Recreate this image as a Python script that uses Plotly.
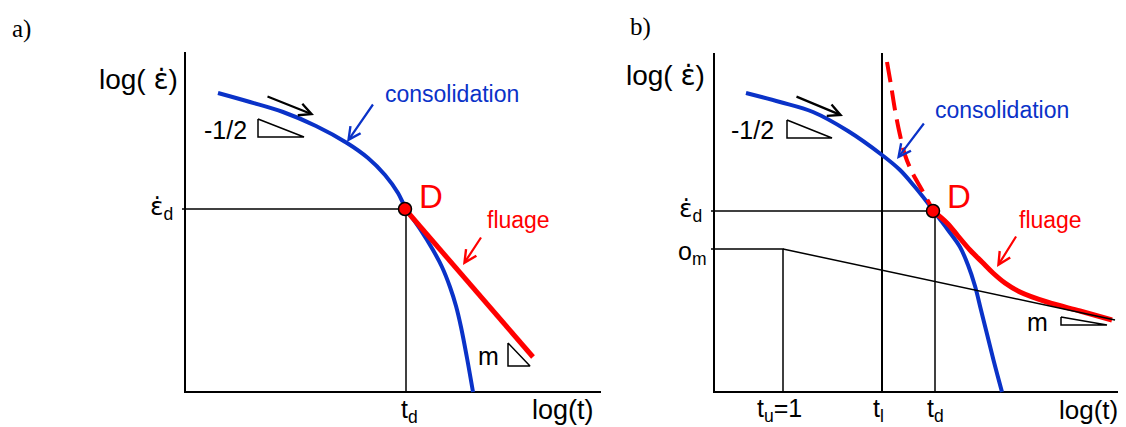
import plotly.graph_objects as go

# ---------------- data (pixel frame of the reference) ----------------
# Panel a
a_axis_x = [185, 185, 601]
a_axis_y = [52, 392, 392]
a_ed_x = [182, 405]
a_ed_y = [209, 209]
a_td_x = [406, 406]
a_td_y = [209, 392]
a_consol_x = [218, 250, 283, 316, 347, 368, 385, 398, 405, 411, 420, 433, 442, 450, 456, 461, 467, 473]
a_consol_y = [93, 102, 112, 126, 143, 158, 175, 193, 207, 216, 229, 250, 267, 287, 306, 327, 358, 392]
a_fluage_x = [405, 533]
a_fluage_y = [209, 357]
a_D = (405, 209)
a_tri_half_x = [258, 258, 304, 258]
a_tri_half_y = [119, 137, 137, 119]
a_tri_m_x = [508, 508, 530, 508]
a_tri_m_y = [343, 366, 366, 343]

# Panel b
b_axis_x = [714, 714, 1126]
b_axis_y = [53, 392, 392]
b_ed_x = [711, 933]
b_ed_y = [211, 211]
b_td_x = [935, 935]
b_td_y = [211, 392]
b_tl_x = [882, 882]
b_tl_y = [53, 392]
b_om_x = [711, 783, 783]
b_om_y = [249, 249, 392]
b_slope_x = [783, 1115]
b_slope_y = [249, 320]
b_consol_x = [746, 780, 813, 848, 882, 900, 915, 927, 933, 939, 948, 960, 968, 975, 981, 987, 994, 1002]
b_consol_y = [93, 102, 112, 131, 155, 170, 187, 202, 210, 218, 230, 247, 265, 286, 310, 334, 362, 392]
b_fluage_x = [933, 947, 958, 970, 982, 993, 1005, 1020, 1047, 1080, 1112]
b_fluage_y = [211, 223, 236, 250, 262, 273, 283, 292, 302, 311, 320]
b_dash_x = [887, 891, 895, 900, 905, 912, 922, 933]
b_dash_y = [62, 85, 110, 135, 155, 172, 190, 210]
b_D = (933, 211)
b_tri_half_x = [787, 787, 832, 787]
b_tri_half_y = [120, 138, 138, 120]
b_tri_m_x = [1061, 1061, 1107, 1061]
b_tri_m_y = [317, 325, 325, 317]

# arrows: (tail_x, tail_y, tip_x, tip_y, colour)
BLUE = "#0a32c8"
arrows = [
    (266, 96, 314, 115, "black"),
    (374, 103, 347, 142, BLUE),
    (482, 236, 463, 265, "red"),
    (795, 96, 843, 116, "black"),
    (925, 122, 897, 159, BLUE),
    (1017, 235, 997, 267, "red"),
]

# epsilon with a dot above, set in a font that places combining marks
EPS = '<span style="font-family:DejaVu Sans">ε̇</span>'

# text labels: (text, x, y, size, colour, family)
SANS = "Liberation Sans, Arial, sans-serif"
SERIF = "Liberation Serif, Times New Roman, serif"
labels = [
    ("a)", 21, 29, 25, "black", SERIF),
    ("b)", 640, 27, 25, "black", SERIF),
    ("log( " + EPS + ")", 138, 79, 28, "black", SANS),
    ("log( " + EPS + ")", 665, 75, 28, "black", SANS),
    (EPS + "<sub>d</sub>", 161, 208, 25, "black", SANS),
    (EPS + "<sub>d</sub>", 690, 210, 25, "black", SANS),
    ("o<sub>m</sub>", 692, 253, 25, "black", SANS),
    ("t<sub>d</sub>", 409, 411, 25, "black", SANS),
    ("log(t)", 563, 410, 27, "black", SANS),
    ("t<sub>u</sub>=1", 779, 410, 25, "black", SANS),
    ("t<sub>l</sub>", 878, 410, 25, "black", SANS),
    ("t<sub>d</sub>", 935, 410, 25, "black", SANS),
    ("log(t)", 1088, 410, 26, "black", SANS),
    ("consolidation", 452, 94, 23, BLUE, SANS),
    ("consolidation", 1002, 110, 23, BLUE, SANS),
    ("-1/2", 225, 130, 25, "black", SANS),
    ("-1/2", 752, 130, 25, "black", SANS),
    ("D", 431, 196, 33, "red", SANS),
    ("D", 959, 196, 33, "red", SANS),
    ("fluage", 518, 220, 23, "red", SANS),
    ("fluage", 1050, 220, 23, "red", SANS),
    ("m", 488, 356, 25, "black", SANS),
    ("m", 1037, 322, 25, "black", SANS),
]

# The page body has an 8px margin; shift the axis frame so data units equal page pixels.
PAGE_W, PAGE_H, OFF = 1126, 427, 8

fig = go.Figure()


def line(x, y, color="black", width=1.6, dash=None, shape="linear"):
    fig.add_trace(go.Scatter(x=x, y=y, mode="lines", hoverinfo="skip",
                             line=dict(color=color, width=width, dash=dash, shape=shape,
                                       smoothing=1.0 if shape == "spline" else None)))


# panel a
line(a_axis_x, a_axis_y, width=2)
line(a_ed_x, a_ed_y, width=1.5)
line(a_td_x, a_td_y, width=1.5)
line(a_tri_half_x, a_tri_half_y, width=1.5)
line(a_tri_m_x, a_tri_m_y, width=1.5)
line(a_consol_x, a_consol_y, color=BLUE, width=4, shape="spline")
line(a_fluage_x, a_fluage_y, color="red", width=5)

# panel b
line(b_axis_x, b_axis_y, width=2)
line(b_ed_x, b_ed_y, width=1.5)
line(b_td_x, b_td_y, width=1.5)
line(b_tl_x, b_tl_y, width=2)
line(b_om_x, b_om_y, width=1.5)
line(b_tri_half_x, b_tri_half_y, width=1.5)
line(b_tri_m_x, b_tri_m_y, width=1.5)
line(b_consol_x, b_consol_y, color=BLUE, width=4, shape="spline")
line(b_fluage_x, b_fluage_y, color="red", width=5, shape="spline")
line(b_slope_x, b_slope_y, width=1.5)
line(b_dash_x, b_dash_y, color="red", width=4, dash="20px,9px", shape="spline")

# D points
fig.add_trace(go.Scatter(x=[a_D[0], b_D[0]], y=[a_D[1], b_D[1]], mode="markers", hoverinfo="skip",
                         marker=dict(size=13, color="red", line=dict(color="black", width=1.5))))

annotations = []
for tx, ty, hx, hy, col in arrows:
    annotations.append(dict(x=hx, y=hy, ax=tx, ay=ty, xref="x", yref="y", axref="x", ayref="y",
                            text="", showarrow=True, arrowhead=5, arrowsize=1.1,
                            arrowwidth=2.2, arrowcolor=col))
for txt, x, y, size, col, fam in labels:
    annotations.append(dict(x=x, y=y, xref="x", yref="y", text=txt, showarrow=False,
                            xanchor="center", yanchor="middle",
                            font=dict(size=size, color=col, family=fam)))

fig.update_layout(
    width=PAGE_W - OFF, height=PAGE_H - OFF,
    margin=dict(l=0, r=0, t=0, b=0, pad=0),
    paper_bgcolor="white", plot_bgcolor="white",
    showlegend=False,
    xaxis=dict(range=[OFF, PAGE_W], visible=False, fixedrange=True),
    yaxis=dict(range=[PAGE_H, OFF], visible=False, fixedrange=True),
    annotations=annotations,
)

fig.write_html("out.html", config={"displayModeBar": False})
